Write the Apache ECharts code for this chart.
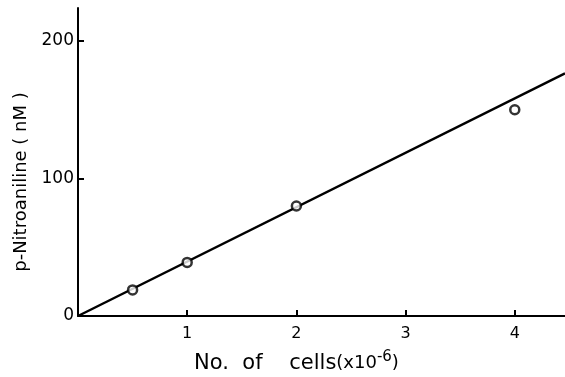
<!DOCTYPE html>
<html>
<head>
<meta charset="utf-8">
<script src="https://cdn.jsdelivr.net/npm/echarts@6/dist/echarts.min.js"></script>
<style>html,body{margin:0;padding:0;background:#fff}#c{width:565px;height:377px}</style>
</head>
<body>
<div id="c"></div>
<script>
const cellsX = [0.5, 1, 2, 4];
const nitroY = [19, 39, 80, 150];
const fitX = [0, 4.46];
const fitY = [0, 176.5];
const xTickLabels = [1, 2, 3, 4];
const yTickLabels = [0, 100, 200];
const yTicks = [100, 200];

const chart = echarts.init(document.getElementById('c'), null, {renderer: 'canvas'});
const font = 'DejaVu Sans';
chart.setOption({
  backgroundColor: '#fff',
  animation: false,
  grid: {left: 78, right: 0, top: 8, bottom: 61, outerBoundsMode: 'none', containLabel: false},
  xAxis: {
    type: 'value', min: 0, max: 4.46,
    splitLine: {show: false},
    axisLine: {lineStyle: {color: '#000', width: 2}},
    axisTick: {inside: true, length: 6, lineStyle: {color: '#000', width: 2}, customValues: xTickLabels},
    axisLabel: {customValues: xTickLabels, color: '#000', fontFamily: font, fontSize: 16, margin: 10},
    name: 'No.  of    cells{p|(x10}{s|-6}{p|)}',
    nameLocation: 'middle', nameGap: 34,
    nameTextStyle: {color: '#000', fontFamily: font, fontSize: 21, padding: [0, 50, 0, 0],
      rich: {
        p: {fontFamily: font, fontSize: 18, color: '#000'},
        s: {fontFamily: font, fontSize: 15, verticalAlign: 'top', padding: [0,0,12,0], color: '#000'}
      }}
  },
  yAxis: {
    type: 'value', min: 0, max: 224,
    splitLine: {show: false},
    axisLine: {lineStyle: {color: '#000', width: 2}},
    axisTick: {inside: true, length: 6, lineStyle: {color: '#000', width: 2}, customValues: yTicks},
    axisLabel: {customValues: yTickLabels, color: '#000', fontFamily: font, fontSize: 17, margin: 4},
    name: 'p-Nitroaniline ( nM )',
    nameLocation: 'middle', nameGap: 41,
    nameTextStyle: {color: '#000', fontFamily: font, fontSize: 18, padding: [0, 40, 0, 0]}
  },
  series: [
    {
      type: 'line', data: fitX.map((x, i) => [x, fitY[i]]),
      showSymbol: false, lineStyle: {color: '#000', width: 2.5}, z: 2
    },
    {
      type: 'scatter', data: cellsX.map((x, i) => [x, nitroY[i]]),
      symbol: 'circle', symbolSize: 9,
      itemStyle: {color: '#fff', borderColor: '#000', borderWidth: 2.5}, z: 3
    }
  ]
});
</script>
</body>
</html>
